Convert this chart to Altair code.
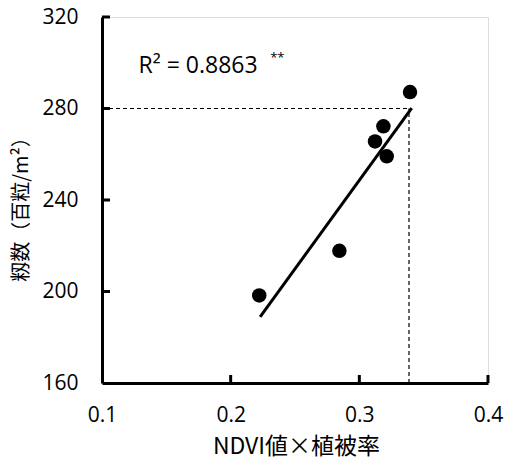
import altair as alt
import pandas as pd

# measured data
ndvi = [0.2222, 0.2845, 0.3122, 0.3187, 0.3213, 0.3394]
grains = [198.3, 217.8, 265.6, 272.2, 259.1, 287.2]

fit_x = [0.2229, 0.3407]
fit_y = [188.9, 280.2]

x_ticks = [0.1, 0.2, 0.3, 0.4]
y_ticks = [160, 200, 240, 280, 320]

ref_y = 280
ref_x_end = 0.3407
ref_x_vert = 0.3386

r2_label = "R² = 0.8863"
sig_label = "**"
x_title = "NDVI値×植被率"
y_title = "籾数（百粒/m²）"

W, H = 386, 366
LATIN = "Open Sans"
CJK = "Noto Sans CJK JP"

pts = pd.DataFrame({"x": ndvi, "y": grains})
fit = pd.DataFrame({"x": fit_x, "y": fit_y})

xs = alt.Scale(domain=[0.1, 0.4], nice=False, zero=False)
ys = alt.Scale(domain=[160, 320], nice=False, zero=False)

xaxis = alt.Axis(values=x_ticks, format=".1f", ticks=False, tickSize=0, grid=False,
                 domainColor="black", domainWidth=3, labelFont=LATIN, labelFontSize=21,
                 labelColor="black", labelPadding=21, labelFlush=False,
                 title=x_title, titleFont=CJK, titleFontSize=23, titleFontWeight="normal",
                 titleColor="black", titleX=194, titleY=63, titleBaseline="middle",
                 titleAlign="center")
yaxis = alt.Axis(values=y_ticks, ticks=False, tickSize=0, grid=False,
                 domainColor="black", domainWidth=3, labelFont=LATIN, labelFontSize=21,
                 labelColor="black", labelPadding=24, labelFlush=False,
                 title=y_title, titleFont=CJK, titleFontSize=20, titleFontWeight="normal",
                 titleColor="black", titleX=-81, titleY=187, titleAngle=-90,
                 titleBaseline="middle", titleAlign="center")

base = alt.Chart(pts).mark_point(size=0, opacity=0).encode(
    x=alt.X("x:Q", scale=xs, axis=xaxis),
    y=alt.Y("y:Q", scale=ys, axis=yaxis),
)

ytick_df = pd.DataFrame({"y": y_ticks[1:]})
yticks = alt.Chart(ytick_df).mark_rule(color="black", strokeWidth=3).encode(
    y=alt.Y("y:Q", scale=ys), x=alt.value(0), x2=alt.value(8))
xtick_df = pd.DataFrame({"x": x_ticks[1:]})
xticks = alt.Chart(xtick_df).mark_rule(color="black", strokeWidth=3).encode(
    x=alt.X("x:Q", scale=xs), y=alt.value(H), y2=alt.value(H - 8))

hdash = alt.Chart(pd.DataFrame({"x": [0.1], "x2": [ref_x_end], "y": [ref_y]})).mark_rule(
    color="black", strokeWidth=1.2, strokeDash=[4, 3]).encode(
    x=alt.X("x:Q", scale=xs), x2="x2:Q", y=alt.Y("y:Q", scale=ys))
vdash = alt.Chart(pd.DataFrame({"x": [ref_x_vert], "y": [160], "y2": [ref_y]})).mark_rule(
    color="black", strokeWidth=1.2, strokeDash=[4, 3]).encode(
    x=alt.X("x:Q", scale=xs), y=alt.Y("y:Q", scale=ys), y2="y2:Q")

line = alt.Chart(fit).mark_line(color="black", strokeWidth=3).encode(
    x=alt.X("x:Q", scale=xs), y=alt.Y("y:Q", scale=ys))

points = alt.Chart(pts).mark_circle(size=210, color="black", opacity=1).encode(
    x=alt.X("x:Q", scale=xs), y=alt.Y("y:Q", scale=ys))

r2 = alt.Chart(pd.DataFrame({"x": [0.1284], "y": [295.6], "t": [r2_label]})).mark_text(
    font=LATIN, fontSize=23, align="left", baseline="alphabetic", color="black").encode(
    x=alt.X("x:Q", scale=xs), y=alt.Y("y:Q", scale=ys), text="t:N")
sig = alt.Chart(pd.DataFrame({"x": [0.2307], "y": [300.5], "t": [sig_label]})).mark_text(
    font=LATIN, fontSize=13, align="left", baseline="alphabetic", color="black").encode(
    x=alt.X("x:Q", scale=xs), y=alt.Y("y:Q", scale=ys), text="t:N")

chart = alt.layer(base, hdash, vdash, line, points, yticks, xticks, r2, sig).properties(
    width=W, height=H,
    autosize=alt.AutoSizeParams(type="none"),
    padding={"left": 102, "top": 17, "right": 20, "bottom": 76},
).configure_view(strokeWidth=0).configure(background="white")

chart.save("out.html", embed_options={"renderer": "svg", "actions": False})
